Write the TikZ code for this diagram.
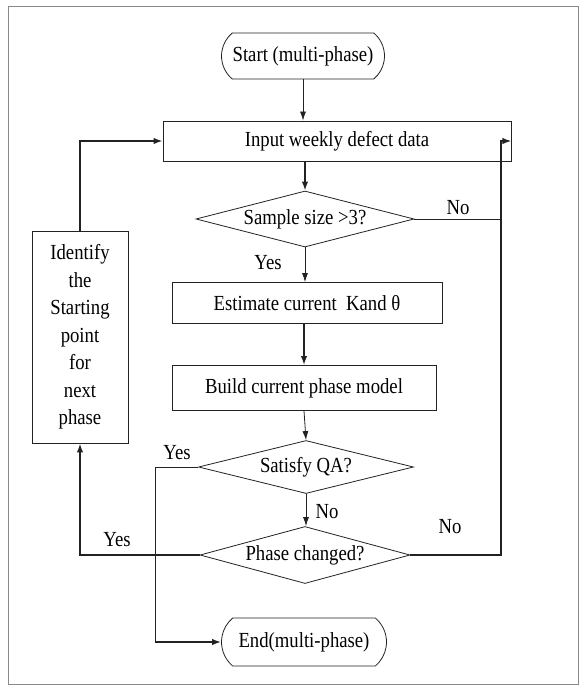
\documentclass[tikz,border=0pt]{standalone}
\usepackage{fontspec}
\setmainfont{Liberation Serif}[FakeStretch=0.87]
\usetikzlibrary{shapes.geometric,shapes.misc,arrows.meta}
\definecolor{lineGray}{HTML}{222222}
\definecolor{frameGray}{HTML}{8a8a8a}

\begin{document}
\begin{tikzpicture}[x=1pt,y=-1pt,
    font=\fontsize{21.5}{27.5}\selectfont,
    every node/.style={inner sep=0pt},
    procbox/.style={draw=lineGray,line width=0.8pt,rectangle},
    termbox/.style={draw=lineGray,line width=0.8pt,rounded rectangle,rounded rectangle arc length=100},
    askbox/.style={draw=lineGray,line width=0.8pt,diamond,aspect=3.8},
    thinflow/.style={draw=lineGray,line width=0.8pt,-{Latex[length=9pt,width=6pt]}},
    thickflow/.style={draw=lineGray,line width=1.6pt,-{Latex[length=9pt,width=6.5pt]}},
    thinline/.style={draw=lineGray,line width=0.8pt},
    thickline/.style={draw=lineGray,line width=1.6pt}
]
    \useasboundingbox (0,0) rectangle (579,687);
    \draw[frameGray,line width=0.8pt] (8,6) rectangle (578.5,684);

    % main column
    \node[termbox,minimum width=163pt,minimum height=46pt] (start) at (303,56) {Start (multi-phase)};
    \node[procbox,minimum width=348pt,minimum height=40pt] (input) at (337,141) {Input weekly defect data};
    \node[askbox,minimum width=218pt,minimum height=56pt] (sample) at (305,219) {Sample size >3?};
    \node[procbox,minimum width=270pt,minimum height=41pt] (estim) at (307,303) {Estimate current \ Kand θ};
    \node[procbox,minimum width=264pt,minimum height=45pt] (build) at (304,388) {Build current phase model};
    \node[askbox,minimum width=215pt,minimum height=53pt] (satisfy) at (306,467) {Satisfy QA?};
    \node[askbox,minimum width=210pt,minimum height=57pt] (phase) at (305,555) {Phase changed?};
    \node[termbox,minimum width=165pt,minimum height=48pt] (stop) at (304,642) {End(multi-phase)};

    % side box
    \node[procbox,minimum width=96pt,minimum height=212pt,align=center] (ident) at (80,337)
        {Identify\\the\\Starting\\point\\for\\next\\phase};

    \coordinate (rside) at (501,0);
    \coordinate (lside) at (155,0);

    % connectors
    \draw[thinflow] (start.south) -- (start.south |- input.north);
    \draw[thickflow] (sample.north |- input.south) -- (sample.north);
    \draw[thinflow] (sample.south) -- (sample.south |- estim.north);
    \draw[thickflow] (build.north |- estim.south) -- (build.north);
    \draw[thinflow] (build.south) -- (satisfy.north);
    \draw[thinflow] (satisfy.south) -- (satisfy.south |- phase.north);
    \draw[thinline] (sample.east) -- (sample.east -| rside);
    \draw[thickflow] (phase.east) -| (rside |- input.east) -- (input.east);
    \draw[thickflow] (phase.west) -| (ident.south);
    \draw[thickflow] (ident.north) |- (input.west);
    \draw[thinline] (satisfy.west) -| (lside |- stop.west);
    \draw[thickflow] (lside |- stop.west) -- (stop.west);

    % labels
    \node (noA) at (458,208) {No};
    \node (yesA) at (268,263) {Yes};
    \node (yesB) at (177,453) {Yes};
    \node (noB) at (327,512) {No};
    \node (yesC) at (117,540) {Yes};
    \node (noC) at (450,527) {No};
\end{tikzpicture}
\end{document}
